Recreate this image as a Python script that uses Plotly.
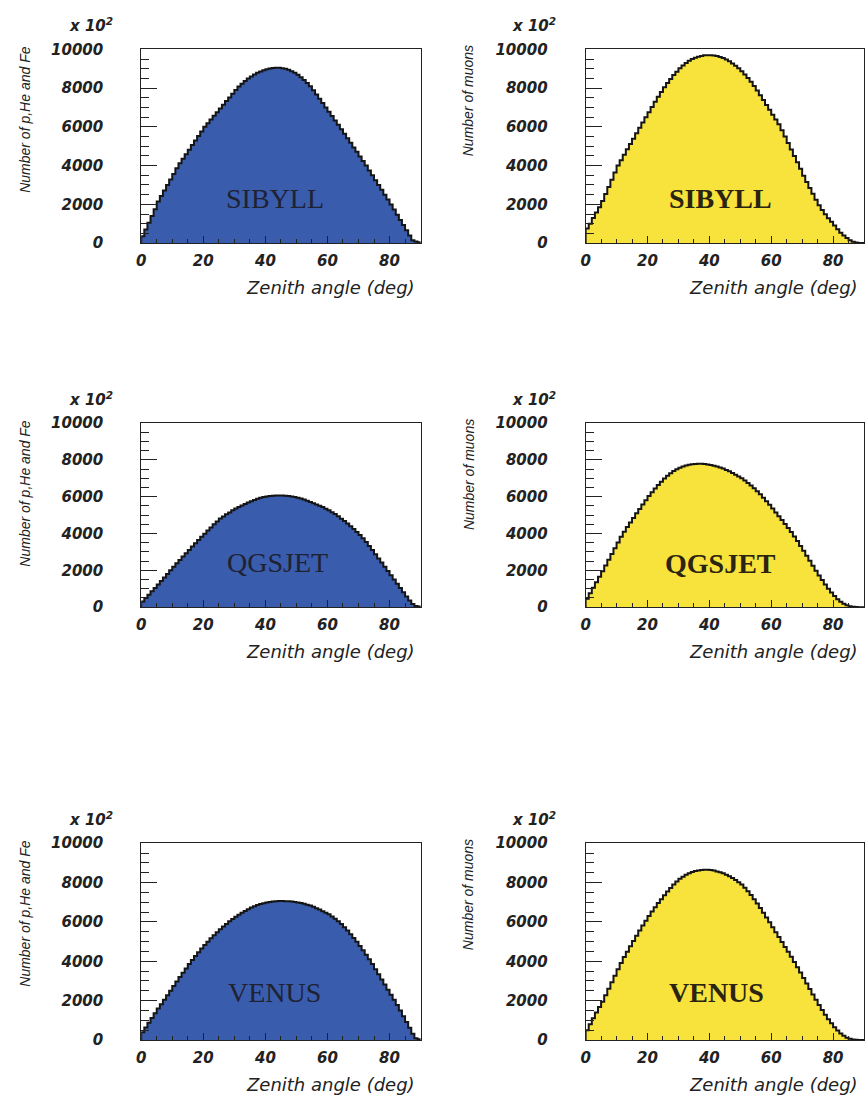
import plotly.graph_objects as go

# ---------------- data (values in units of 10^2) ----------------
zenith_edges = list(range(0, 91))  # 1-degree bins, 0..90 deg

sibyll_nuclei = [350, 700, 1050, 1400, 1750, 2150, 2430, 2710, 3000, 3290,
                 3570, 3860, 4120, 4350, 4590, 4820, 5060, 5290, 5530, 5760,
                 6000, 6190, 6380, 6570, 6760, 6950, 7140, 7330, 7520, 7710,
                 7900, 8079, 8228, 8365, 8489, 8601, 8701, 8788, 8862, 8924,
                 8974, 9011, 9036, 9048, 9048, 9030, 8996, 8944, 8874, 8788,
                 8683, 8562, 8423, 8267, 8092, 7890, 7670, 7450, 7230, 7000,
                 6780, 6560, 6330, 6110, 5880, 5650, 5410, 5180, 4940, 4710,
                 4470, 4240, 4000, 3750, 3500, 3250, 3000, 2750, 2500, 2250,
                 2000, 1730, 1470, 1200, 930, 670, 400, 150, 80, 40]

sibyll_muons = [750, 1000, 1300, 1580, 1850, 2180, 2540, 2900, 3270, 3640,
                4000, 4280, 4560, 4840, 5110, 5390, 5670, 5950, 6220, 6490,
                6760, 7030, 7290, 7550, 7800, 8040, 8260, 8470, 8670, 8850,
                9020, 9170, 9300, 9410, 9500, 9570, 9620, 9660, 9690, 9700,
                9698, 9683, 9653, 9607, 9547, 9472, 9381, 9275, 9154, 9018,
                8867, 8701, 8519, 8323, 8111, 7880, 7630, 7380, 7130, 6880,
                6630, 6380, 6130, 5830, 5500, 5170, 4830, 4500, 4170, 3840,
                3480, 3150, 2850, 2550, 2240, 1950, 1710, 1490, 1290, 1100,
                910, 720, 540, 390, 260, 150, 70, 30, 10, 10]

qgsjet_nuclei = [300, 500, 680, 860, 1040, 1230, 1420, 1610, 1800, 2000,
                 2190, 2380, 2560, 2750, 2930, 3110, 3290, 3470, 3650, 3820,
                 3990, 4160, 4330, 4500, 4660, 4820, 4930, 5050, 5150, 5260,
                 5360, 5450, 5530, 5610, 5690, 5760, 5830, 5890, 5940, 5980,
                 6010, 6035, 6050, 6065, 6070, 6065, 6055, 6040, 6015, 5985,
                 5945, 5900, 5845, 5780, 5720, 5650, 5580, 5510, 5440, 5350,
                 5260, 5160, 5060, 4940, 4810, 4680, 4540, 4400, 4250, 4090,
                 3920, 3740, 3540, 3330, 3110, 2880, 2650, 2420, 2190, 1960,
                 1730, 1500, 1270, 1040, 810, 580, 360, 170, 60, 30]

qgsjet_muons = [450, 750, 1050, 1350, 1650, 1950, 2270, 2580, 2890, 3200,
                3510, 3820, 4100, 4350, 4600, 4850, 5100, 5340, 5580, 5810,
                6040, 6250, 6450, 6640, 6820, 6990, 7140, 7280, 7400, 7500,
                7580, 7650, 7700, 7740, 7765, 7780, 7790, 7790, 7780, 7760,
                7730, 7690, 7640, 7590, 7530, 7460, 7380, 7290, 7200, 7100,
                7000, 6880, 6750, 6610, 6460, 6300, 6130, 5950, 5760, 5560,
                5360, 5150, 4940, 4730, 4520, 4300, 4080, 3840, 3590, 3330,
                3060, 2790, 2520, 2250, 1980, 1720, 1470, 1230, 1000, 790,
                600, 430, 290, 180, 100, 50, 20, 10, 0, 0]

venus_nuclei = [400, 640, 880, 1120, 1360, 1600, 1820, 2040, 2270, 2500,
                2740, 2970, 3200, 3420, 3640, 3860, 4070, 4270, 4460, 4650,
                4830, 5000, 5170, 5330, 5480, 5630, 5770, 5900, 6030, 6150,
                6260, 6370, 6470, 6560, 6650, 6730, 6800, 6860, 6910, 6955,
                6990, 7020, 7040, 7055, 7060, 7060, 7058, 7050, 7040, 7020,
                6995, 6960, 6920, 6880, 6830, 6770, 6700, 6630, 6550, 6470,
                6390, 6280, 6160, 6030, 5890, 5730, 5560, 5380, 5190, 4990,
                4780, 4560, 4330, 4100, 3860, 3600, 3340, 3080, 2820, 2560,
                2300, 2050, 1780, 1500, 1210, 920, 620, 320, 90, 40]

venus_muons = [500, 800, 1100, 1400, 1680, 1950, 2280, 2610, 2940, 3270,
               3600, 3920, 4220, 4490, 4760, 5030, 5300, 5560, 5820, 6060,
               6300, 6530, 6750, 6960, 7160, 7360, 7550, 7730, 7900, 8050,
               8190, 8300, 8400, 8480, 8540, 8590, 8620, 8640, 8650, 8650,
               8640, 8610, 8570, 8520, 8470, 8400, 8320, 8230, 8130, 8020,
               7900, 7740, 7560, 7370, 7160, 6940, 6710, 6470, 6230, 5980,
               5730, 5480, 5230, 4980, 4730, 4480, 4230, 3970, 3700, 3430,
               3150, 2870, 2590, 2310, 2040, 1780, 1530, 1290, 1060, 850,
               650, 480, 330, 210, 120, 60, 25, 10, 5, 5]

model_names = ["SIBYLL", "QGSJET", "VENUS"]
y_titles = ["Number of p,He and Fe", "Number of muons"]
x_title = "Zenith angle (deg)"
y_tick_values = [0, 2000, 4000, 6000, 8000, 10000]
y_tick_labels = ["0", "2000", "4000", "6000", "8000", "10000"]
x_tick_values = [0, 20, 40, 60, 80]
x_tick_labels = ["0", "20", "40", "60", "80"]

# ---------------- layout geometry ----------------
W, H = 867, 1110
col_px = [(137, 418), (584, 864)]              # frame left/right in px
row_px = [(41, 238), (421, 608), (848, 1048)]  # frame top/bottom in px
BLUE = "#3A5CAC"
YELLOW = "#F8E23C"

panels = [
    (0, 0, sibyll_nuclei, BLUE), (0, 1, sibyll_muons, YELLOW),
    (1, 0, qgsjet_nuclei, BLUE), (1, 1, qgsjet_muons, YELLOW),
    (2, 0, venus_nuclei, BLUE), (2, 1, venus_muons, YELLOW),
]
label_pos = {  # (x deg, y value) for model labels
    (0, 0): (43, 2280), (0, 1): (43.7, 2280),
    (1, 0): (44, 2400), (1, 1): (43.7, 2350),
    (2, 0): (42.8, 2400), (2, 1): (42.4, 2400),
}

fig = go.Figure()
annotations = []
layout_axes = {}

tick_font = dict(family="DejaVu Sans", size=15, color="#222222", style="italic", weight="bold")

for k, (r, c, vals, color) in enumerate(panels):
    idx = "" if k == 0 else str(k + 1)
    xs = [0] + zenith_edges[:-1] + [90, 90]
    ys = [0] + vals + [vals[-1], 0]
    fig.add_trace(go.Scatter(
        x=xs, y=ys, mode="lines", line=dict(shape="hv", color="#151515", width=2),
        fill="tozeroy", fillcolor=color, hoverinfo="skip", showlegend=False,
        xaxis="x" + idx, yaxis="y" + idx,
    ))
    x0, x1 = col_px[c]
    t, b = row_px[r]
    layout_axes["xaxis" + idx] = dict(
        domain=[x0 / W, x1 / W], range=[0, 90], anchor="y" + idx,
        tickvals=x_tick_values, ticktext=x_tick_labels,
        ticks="inside", ticklen=7, tickwidth=1, tickcolor="#222",
        minor=dict(dtick=5, tick0=0, ticks="inside", ticklen=4, tickcolor="#222"),
        showline=True, mirror=True, linecolor="#222", linewidth=1,
        showgrid=False, zeroline=False, tickfont=tick_font, ticklabelstandoff=4,
    )
    layout_axes["yaxis" + idx] = dict(
        domain=[1 - b / H, 1 - t / H], range=[0, 10000], anchor="x" + idx,
        tickvals=y_tick_values, ticktext=y_tick_labels,
        ticks="inside", ticklen=16, tickwidth=1, tickcolor="#222",
        minor=dict(dtick=500, tick0=0, ticks="inside", ticklen=8, tickcolor="#222"),
        showline=True, mirror=True, linecolor="#222", linewidth=1,
        showgrid=False, zeroline=False, tickfont=tick_font, ticklabelstandoff=34,
    )
    # model label
    lx, ly = label_pos[(r, c)]
    annotations.append(dict(
        x=lx, y=ly, xref="x" + idx, yref="y" + idx, text=model_names[r], showarrow=False,
        font=dict(family="Liberation Serif", size=28,
                  color="#1e2233" if c == 0 else "#2a2410",
                  weight="normal" if c == 0 else "bold"),
        xanchor="center", yanchor="middle",
    ))
    # y title
    yt_x = 20 if c == 0 else 466
    annotations.append(dict(
        x=yt_x / W, y=1 - (t - 6) / H, xref="paper", yref="paper", text=y_titles[c],
        textangle=-90, showarrow=False, xanchor="center", yanchor="top",
        font=dict(family="Liberation Sans Narrow, Liberation Sans", size=14, color="#222", style="italic"),
    ))
    # x 10^2
    annotations.append(dict(
        x=(62 if c == 0 else 508) / W, y=1 - (t - 25) / H, xref="paper", yref="paper",
        text="x 10<sup>2</sup>", showarrow=False, xanchor="left", yanchor="middle",
        font=dict(family="DejaVu Sans", size=15, color="#222", style="italic", weight="bold"),
    ))
    # x title
    annotations.append(dict(
        x=(x1 - 4) / W, y=1 - (b + 45) / H, xref="paper", yref="paper", text=x_title,
        showarrow=False, xanchor="right", yanchor="middle",
        font=dict(family="DejaVu Sans", size=18, color="#222", style="italic"),
    ))

fig.update_layout(
    width=W, height=H, margin=dict(l=0, r=0, t=0, b=0),
    paper_bgcolor="white", plot_bgcolor="white",
    annotations=annotations, **layout_axes,
)

fig.write_html("out.html")
